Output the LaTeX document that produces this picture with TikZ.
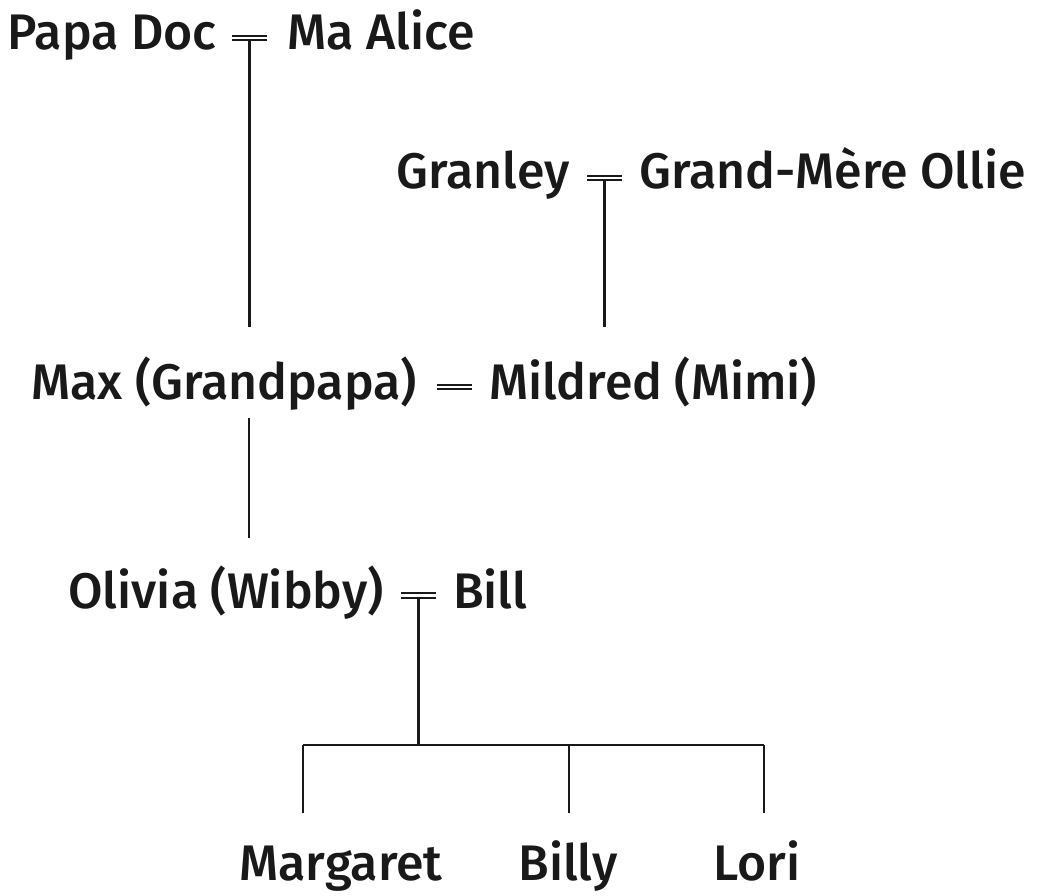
\documentclass[tikz,border=0pt]{standalone}
\usepackage{fontspec}
\setmainfont{Fira Sans}[UprightFont=* Medium]
\begin{document}
\begin{tikzpicture}[x=1pt,y=-1pt,
  person/.style={inner sep=0pt, font=\fontsize{50}{60}\selectfont, text=black!90},
  lft/.style={person, anchor=base east},
  rgt/.style={person, anchor=base west},
  kid/.style={person, anchor=base},
  line/.style={line width=2.6pt, draw=black!90},
  bar/.style={line width=1.8pt, draw=black!90}]
\useasboundingbox (0,0) rectangle (1045,896);
% row 1
\node[lft] (pd) at (217,50) {Papa Doc};
\node[rgt] (ma) at (287,50) {Ma Alice};
\coordinate (m1) at (249.5,38);
% row 2
\node[lft] (gr) at (570,189) {Granley};
\node[rgt] (gm) at (639,189) {Grand-Mère Ollie};
\coordinate (m2) at (604.5,178);
% row 3
\node[lft] (mx) at (417,399) {Max (Grandpapa)};
\node[rgt] (mi) at (489,399) {Mildred (Mimi)};
\coordinate (m3) at (454,387);
% row 4
\node[lft] (ol) at (384,608) {Olivia (Wibby)};
\node[rgt] (bi) at (453,608) {Bill};
\coordinate (m4) at (418.5,595.5);
% row 5
\node[kid] (mg) at (341,880) {Margaret};
\node[kid] (by) at (568,880) {Billy};
\node[kid] (lo) at (757,880) {Lori};
% marriage symbols
\foreach \m in {m1,m2,m3,m4}{
  \draw[bar] ([xshift=-17.5pt, yshift=2.2pt]\m) -- ([xshift=17.5pt, yshift=2.2pt]\m);
  \draw[bar] ([xshift=-17.5pt, yshift=-2.2pt]\m) -- ([xshift=17.5pt, yshift=-2.2pt]\m);
}
% descent lines
\coordinate (c1) at (m1 |- 0,327);
\coordinate (c2) at (m2 |- 0,327);
\draw[line] ([yshift=-2.2pt]m1) -- (c1);
\draw[line] ([yshift=-2.2pt]m2) -- (c2);
\coordinate (mxb) at (249,418);
\coordinate (olt) at (249,538);
\draw[line] (mxb) -- (olt);
\coordinate (bus) at (m4 |- 0,745);
\draw[line] ([yshift=-2.2pt]m4) -- (bus);
\coordinate (bl) at (303,745);
\coordinate (bm) at (569,745);
\coordinate (br) at (764,745);
\draw[line] (bl) -- (br);
\draw[line] (bl) -- (bl |- 0,813);
\draw[line] (bm) -- (bm |- 0,813);
\draw[line] (br) -- (br |- 0,813);
\end{tikzpicture}
\end{document}
